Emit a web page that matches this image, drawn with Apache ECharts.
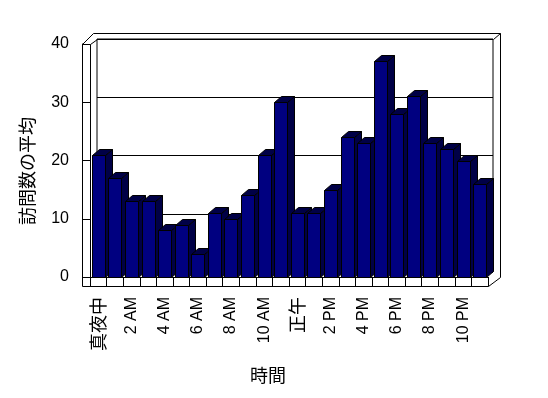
<!DOCTYPE html>
<html>
<head>
<meta charset="utf-8">
<script src="https://cdn.jsdelivr.net/npm/echarts@6/dist/echarts.min.js"></script>
<style>
  html, body { margin: 0; padding: 0; background: #fff; }
  #chart { width: 548px; height: 398px; }
</style>
</head>
<body>
<div id="chart"></div>
<script>
// --- data ---
const hours = ['真夜中', '1 AM', '2 AM', '3 AM', '4 AM', '5 AM', '6 AM', '7 AM', '8 AM', '9 AM', '10 AM', '11 AM',
  '正午', '1 PM', '2 PM', '3 PM', '4 PM', '5 PM', '6 PM', '7 PM', '8 PM', '9 PM', '10 PM', '11 PM'];
const visits = [21, 17, 13, 13, 8, 9, 4, 11, 10, 14, 21, 30, 11, 11, 15, 24, 23, 37, 28, 31, 23, 22, 20, 16];
const yMin = 0;
const yMax = 40;
const yStep = 10;

const FONT = "'Liberation Sans', 'Noto Sans CJK JP', sans-serif";
const JP_FONT = "'Noto Sans CJK JP', sans-serif";

// depth of the 3D bars
const DX = 7;
const DY = -6;
const SHADE = '#000046'; // dithered navy/black of the old chart, averaged

function renderBar(params, api) {
  const top = api.coord([api.value(0), api.value(1)]);
  const base = api.coord([api.value(0), 0]);
  const w = api.size([1, 0])[0] * 0.78;
  const x0 = Math.round(top[0] - w / 2) + 0.5;
  const x1 = Math.round(top[0] + w / 2) + 0.5;
  const yt = Math.round(top[1]) + 0.5;
  const yb = Math.round(base[1]) + 0.5;
  const line = { stroke: '#000', lineWidth: 1 };
  return {
    type: 'group',
    children: [
      {
        type: 'polygon',
        shape: { points: [[x1, yt], [x1 + DX, yt + DY], [x1 + DX, yb + DY], [x1, yb]] },
        style: Object.assign({ fill: SHADE }, line)
      },
      {
        type: 'polygon',
        shape: { points: [[x0, yt], [x0 + DX, yt + DY], [x1 + DX, yt + DY], [x1, yt]] },
        style: Object.assign({ fill: SHADE }, line)
      },
      {
        type: 'rect',
        shape: { x: x0, y: yt, width: x1 - x0, height: yb - yt },
        style: Object.assign({ fill: '#000080' }, line)
      }
    ]
  };
}

const chart = echarts.init(document.getElementById('chart'));

const blackLine = { show: true, onZero: false, lineStyle: { color: '#000', width: 1 } };
const frameLine = { stroke: '#000', lineWidth: 1, fill: null };
function seg(points) {
  return { type: 'polyline', z: 1, shape: { points: points.map(p => [p[0] + 0.5, p[1] + 0.5]) }, style: frameLine, silent: true };
}

chart.setOption({
  animation: false,
  backgroundColor: '#fff',
  textStyle: { fontFamily: FONT, color: '#000' },
  grid: [
    { left: 90, right: 60, top: 44, bottom: 121 },
    { left: 97, right: 55, top: 39, bottom: 126, show: true, borderColor: '#000', borderWidth: 1, backgroundColor: 'transparent', z: 0 }
  ],
  xAxis: [
    {
      type: 'category',
      gridIndex: 0,
      data: hours,
      offset: 9,
      axisLine: blackLine,
      axisTick: { show: true, inside: true, length: 9, interval: 0, lineStyle: { color: '#000' } },
      axisLabel: {
        interval: 1,
        rotate: 90,
        margin: 11,
        fontSize: 16,
        fontFamily: FONT,
        color: '#000',
        formatter: v => /[A-Za-z0-9]/.test(v) ? v : '{jp|' + v + '}',
        rich: { jp: { fontSize: 18, fontFamily: JP_FONT, color: '#000' } }
      },
      name: '時間',
      nameLocation: 'middle',
      nameGap: 80,
      nameTextStyle: { fontSize: 18, fontFamily: JP_FONT, color: '#000', padding: [0, 42, 0, 0] }
    },
    {
      type: 'category',
      gridIndex: 1,
      data: hours,
      show: false
    }
  ],
  yAxis: [
    {
      type: 'value',
      gridIndex: 0,
      min: yMin,
      max: yMax,
      interval: yStep,
      offset: 8,
      axisLine: blackLine,
      axisTick: { show: true, inside: true, length: 8, lineStyle: { color: '#000' } },
      axisLabel: { margin: 13, fontSize: 16, fontFamily: FONT, color: '#000' },
      splitLine: { show: false },
      name: '訪問数の平均',
      nameLocation: 'middle',
      nameGap: 46,
      nameTextStyle: { fontSize: 18, fontFamily: JP_FONT, color: '#000', padding: [0, 21, 0, 0] }
    },
    {
      type: 'value',
      gridIndex: 1,
      min: yMin,
      max: yMax,
      interval: yStep,
      axisLine: { show: false },
      axisTick: { show: false },
      axisLabel: { show: false },
      splitLine: { show: true, lineStyle: { color: '#000', width: 1 } }
    }
  ],
  graphic: [
    seg([[82, 277], [82, 286], [90, 286]]),
    seg([[82, 44], [90, 44], [90, 277]]),
    seg([[82, 44], [93, 33], [500, 33], [500, 277]]),
    seg([[90, 44], [97, 39]]),
    seg([[493, 39], [500, 33]]),
    seg([[90, 277], [488, 277], [488, 286], [500, 277]])
  ],
  series: [
    {
      type: 'custom',
      xAxisIndex: 0,
      yAxisIndex: 0,
      z: 5,
      renderItem: renderBar,
      encode: { x: 0, y: 1 },
      data: visits.map((v, i) => [i, v])
    }
  ]
});

window.addEventListener('resize', () => chart.resize());
</script>
</body>
</html>
